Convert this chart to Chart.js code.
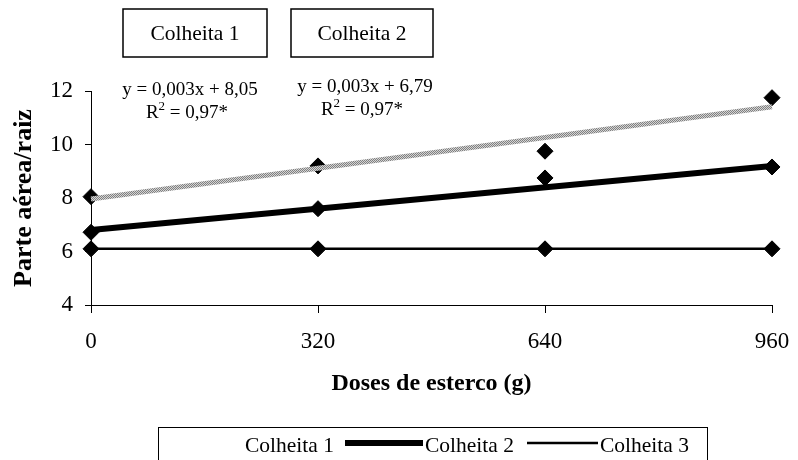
<!DOCTYPE html>
<html>
<head>
<meta charset="utf-8">
<script src="https://cdn.jsdelivr.net/npm/chart.js@4/dist/chart.umd.min.js"></script>
<style>
  html, body { margin: 0; padding: 0; background: #fff; }
  #wrap { position: relative; width: 798px; height: 460px; }
</style>
</head>
<body>
<div id="wrap"><canvas id="c" width="798" height="460"></canvas></div>
<script>
// Doses of manure (g) and shoot/root ratio per harvest
const doses = [0, 320, 640, 960];
const colheita1 = [8.05, 9.2, 9.75, 11.75];
const colheita2 = [6.72, 7.6, 8.75, 9.16];
const colheita3 = [6.1, 6.1, 6.1, 6.1];

// Fitted trend lines (ends at the first and last dose)
const trendDoses = [0, 960];
const trend1 = [7.96, 11.41];
const trend2 = [6.8, 9.2];

const seriesNames = ['Colheita 1', 'Colheita 2', 'Colheita 3'];
const equations = ['y = 0,003x + 8,05', 'y = 0,003x + 6,79'];
const r2Values = ['0,97*', '0,97*'];
const xTicks = [0, 320, 640, 960];
const yTicks = [4, 6, 8, 10, 12];

const SERIF = '"Liberation Serif", "Times New Roman", serif';

// dithered grey for the first trend line
function ditherPattern(ctx) {
  const p = document.createElement('canvas');
  p.width = 2; p.height = 2;
  const g = p.getContext('2d');
  g.fillStyle = '#d4d4d4';
  g.fillRect(0, 0, 2, 2);
  g.fillStyle = '#808080';
  g.fillRect(0, 0, 1, 1);
  g.fillRect(1, 1, 1, 1);
  return ctx.createPattern(p, 'repeat');
}

const canvas = document.getElementById('c');
const ctx = canvas.getContext('2d');
const grey = ditherPattern(ctx);

const pts = (xs, ys) => xs.map((x, i) => ({ x: x, y: ys[i] }));

const marker = {
  pointStyle: 'rectRot',
  pointRadius: 8,
  pointHoverRadius: 8,
  pointBackgroundColor: '#000',
  pointBorderColor: '#000',
  pointBorderWidth: 1,
  clip: false
};

const overlay = {
  id: 'overlay',
  afterDraw(chart) {
    const c = chart.ctx;
    c.save();
    c.fillStyle = '#000';
    c.strokeStyle = '#000';

    // harvest boxes at the top
    c.lineWidth = 1.5;
    c.font = '21.5px ' + SERIF;
    c.textAlign = 'center';
    c.textBaseline = 'middle';
    const boxes = [[123, 9, 144, 48], [291, 9, 142, 48]];
    boxes.forEach((b, i) => {
      c.strokeRect(b[0], b[1], b[2], b[3]);
      c.fillText(seriesNames[i], b[0] + b[2] / 2, b[1] + b[3] / 2 + 1);
    });

    // regression equations
    const eqPos = [[190, 90, 187, 113], [365, 87, 362, 110]];
    const big = '19px ' + SERIF, small = '13px ' + SERIF;
    eqPos.forEach((p, i) => {
      c.font = big;
      c.textAlign = 'center';
      c.fillText(equations[i], p[0], p[1]);
      const rest = ' = ' + r2Values[i];
      const wR = c.measureText('R').width;
      const wRest = c.measureText(rest).width;
      c.font = small;
      const w2 = c.measureText('2').width;
      const x0 = p[2] - (wR + w2 + wRest) / 2;
      c.textAlign = 'left';
      c.font = big;
      c.fillText('R', x0, p[3]);
      c.font = small;
      c.fillText('2', x0 + wR, p[3] - 6);
      c.font = big;
      c.fillText(rest, x0 + wR + w2, p[3]);
    });

    // legend
    c.lineWidth = 1;
    c.strokeRect(158.5, 427.5, 549, 60);
    c.font = '21.5px ' + SERIF;
    c.textAlign = 'left';
    c.textBaseline = 'alphabetic';
    const items = [
      { sample: null, text: 245 },
      { sample: [345, 423, 6], text: 425 },
      { sample: [527, 598, 2.5], text: 600 }
    ];
    items.forEach((it, i) => {
      if (it.sample) {
        c.lineWidth = it.sample[2];
        c.beginPath();
        c.moveTo(it.sample[0], 443);
        c.lineTo(it.sample[1], 443);
        c.stroke();
      }
      c.fillText(seriesNames[i], it.text, 452);
    });
    c.restore();
  }
};

new Chart(canvas, {
  type: 'scatter',
  data: {
    datasets: [
      { label: seriesNames[0] + ' (tendência)', data: pts(trendDoses, trend1), type: 'line',
        borderColor: grey, borderWidth: 5, pointRadius: 0, order: 0, clip: false },
      { label: seriesNames[1] + ' (tendência)', data: pts(trendDoses, trend2), type: 'line',
        borderColor: '#000', borderWidth: 6, pointRadius: 0, order: 0, clip: false },
      Object.assign({ label: seriesNames[0], data: pts(doses, colheita1), showLine: false, order: 1 }, marker),
      Object.assign({ label: seriesNames[1], data: pts(doses, colheita2), showLine: false, order: 1 }, marker),
      Object.assign({ label: seriesNames[2], data: pts(doses, colheita3), showLine: true,
        borderColor: '#000', borderWidth: 2.5, order: 2 }, marker)
    ]
  },
  options: {
    responsive: false,
    animation: false,
    devicePixelRatio: 1,
    layout: { padding: { top: 91, right: 26, left: 0, bottom: 0 } },
    plugins: { legend: { display: false }, tooltip: { enabled: false } },
    scales: {
      x: {
        type: 'linear',
        min: 0, max: 960,
        afterBuildTicks: s => { s.ticks = xTicks.map(v => ({ value: v })); },
        afterFit: s => { s.height = 155; },
        grid: { drawOnChartArea: false, drawTicks: true, tickLength: 8, tickColor: '#000', lineWidth: 1 },
        border: { display: true, color: '#000', width: 1 },
        ticks: { color: '#000', font: { family: SERIF, size: 23, lineHeight: 1.8 }, padding: 8, maxRotation: 0 },
        title: { display: true, text: 'Doses de esterco (g)', color: '#000',
          font: { family: SERIF, size: 24, weight: 'bold' }, padding: { top: 4, bottom: 62 } }
      },
      y: {
        min: 4, max: 12,
        afterBuildTicks: s => { s.ticks = yTicks.map(v => ({ value: v })); },
        afterFit: s => { s.width = 91; },
        grid: { drawOnChartArea: false, drawTicks: true, tickLength: 6, tickColor: '#000', lineWidth: 1 },
        border: { display: true, color: '#000', width: 1 },
        ticks: { color: '#000', font: { family: SERIF, size: 23 }, padding: 12 },
        title: { display: true, text: 'Parte aérea/raiz', color: '#000',
          font: { family: SERIF, size: 26, weight: 'bold' }, padding: { top: 9, bottom: 0 } }
      }
    }
  },
  plugins: [overlay]
});
</script>
</body>
</html>
